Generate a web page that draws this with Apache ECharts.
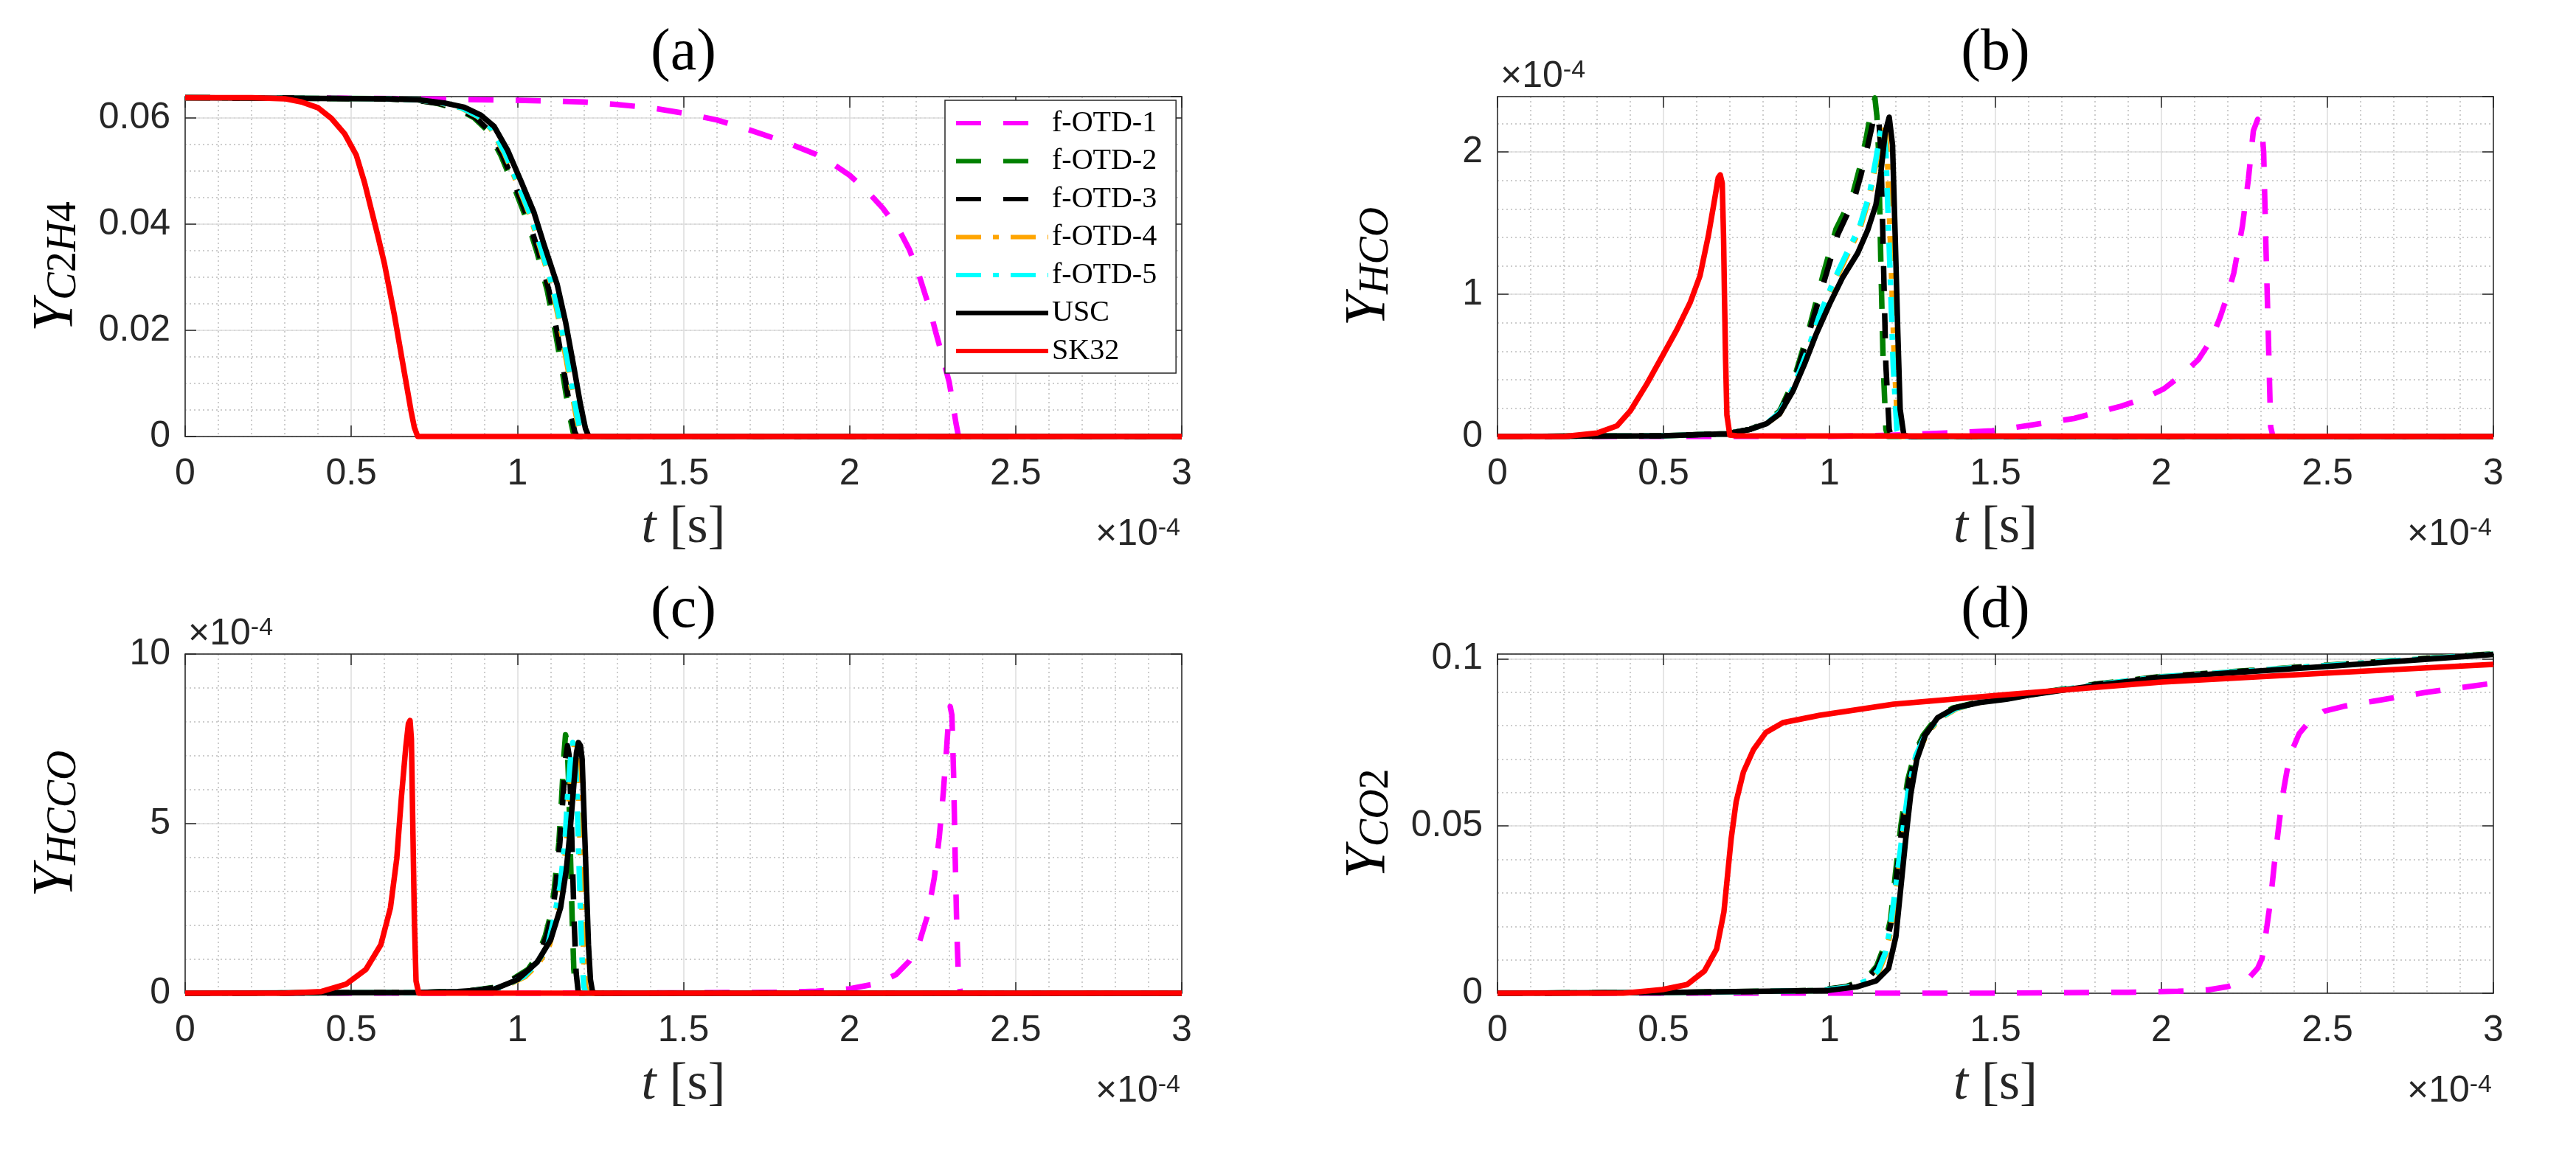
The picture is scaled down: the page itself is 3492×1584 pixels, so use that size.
<!DOCTYPE html>
<html>
<head>
<meta charset="utf-8">
<script src="https://cdn.jsdelivr.net/npm/echarts@6/dist/echarts.min.js"></script>
<style>
  html, body { margin: 0; padding: 0; background: #fff; }
  #main { width: 3492px; height: 1584px; }
</style>
</head>
<body>
<div id="main"></div>
<script>
// time in units of 1e-4 s (axis shows x10^-4)
// (a) Y_C2H4
const a_otd1 = [[0,0.0638],[0.5,0.0637],[0.8,0.0635],[1.0,0.0633],[1.2,0.0630],[1.3,0.0625],[1.4,0.0619],[1.5,0.0609],[1.6,0.0596],[1.7,0.0577],[1.8,0.0556],[1.9,0.0531],[1.95,0.0513],[2.0,0.0492],[2.05,0.0464],[2.1,0.0430],[2.15,0.0388],[2.18,0.0352],[2.21,0.0302],[2.24,0.0243],[2.26,0.0195],[2.28,0.0150],[2.30,0.0102],[2.31,0.0066],[2.32,0.0026],[2.328,0],[3,0]];
const a_otd2 = [[0,0.0638],[0.6,0.0636],[0.7,0.0633],[0.76,0.0627],[0.82,0.0617],[0.87,0.0600],[0.91,0.0576],[0.95,0.0530],[0.99,0.0470],[1.03,0.0405],[1.06,0.0345],[1.09,0.0275],[1.115,0.0195],[1.14,0.0105],[1.157,0.0040],[1.168,0.0008],[1.175,0],[3,0]];
const a_otd3 = [[0,0.0638],[0.6,0.0636],[0.7,0.0633],[0.765,0.0627],[0.825,0.0617],[0.875,0.0600],[0.915,0.0576],[0.955,0.0530],[0.995,0.0470],[1.035,0.0405],[1.065,0.0345],[1.095,0.0275],[1.12,0.0195],[1.145,0.0105],[1.162,0.0040],[1.173,0.0008],[1.18,0],[3,0]];
const a_otd4 = [[0,0.0638],[0.6,0.0636],[0.7,0.0634],[0.77,0.0628],[0.83,0.0619],[0.88,0.0603],[0.92,0.0580],[0.96,0.0535],[1.0,0.0476],[1.04,0.0413],[1.07,0.0353],[1.105,0.0280],[1.13,0.0205],[1.155,0.0118],[1.175,0.0045],[1.188,0.0008],[1.195,0],[3,0]];
const a_otd5 = [[0,0.0638],[0.6,0.0636],[0.7,0.0634],[0.772,0.0628],[0.832,0.0619],[0.882,0.0603],[0.922,0.0580],[0.962,0.0535],[1.002,0.0476],[1.042,0.0413],[1.072,0.0353],[1.107,0.0280],[1.133,0.0205],[1.158,0.0118],[1.178,0.0045],[1.19,0.0008],[1.198,0],[3,0]];
const a_usc  = [[0,0.0638],[0.6,0.0636],[0.7,0.0634],[0.78,0.0628],[0.84,0.0620],[0.89,0.0605],[0.93,0.0584],[0.97,0.0540],[1.01,0.0482],[1.05,0.0422],[1.08,0.0362],[1.12,0.0286],[1.145,0.0216],[1.17,0.0131],[1.19,0.0060],[1.205,0.0015],[1.215,0],[3,0]];
const a_sk32 = [[0,0.0638],[0.2,0.0638],[0.3,0.0636],[0.35,0.0630],[0.40,0.0619],[0.44,0.0599],[0.48,0.0570],[0.515,0.0530],[0.54,0.0478],[0.56,0.0428],[0.58,0.0378],[0.60,0.0325],[0.63,0.0228],[0.66,0.0120],[0.68,0.0048],[0.69,0.0017],[0.70,0],[3,0]];

// (b) Y_HCO, values in 1e-4
const b_otd1 = [[0,0],[1.0,0],[1.2,0.01],[1.35,0.025],[1.49,0.04],[1.6,0.078],[1.737,0.127],[1.874,0.21],[1.95,0.27],[2.007,0.335],[2.06,0.43],[2.111,0.54],[2.15,0.68],[2.177,0.84],[2.2,1.0],[2.218,1.15],[2.244,1.48],[2.262,1.81],[2.277,2.15],[2.29,2.23],[2.302,2.18],[2.308,2.0],[2.314,1.41],[2.322,0.72],[2.329,0.07],[2.336,0],[3,0]];
const b_otd2 = [[0,0],[0.5,0.005],[0.69,0.02],[0.76,0.05],[0.81,0.10],[0.85,0.18],[0.89,0.38],[0.94,0.77],[0.98,1.13],[1.02,1.46],[1.05,1.60],[1.072,1.72],[1.09,1.88],[1.11,2.09],[1.125,2.28],[1.137,2.38],[1.143,2.25],[1.148,2.0],[1.155,1.2],[1.162,0.5],[1.170,0.05],[1.176,0],[3,0]];
const b_otd3 = [[0,0],[0.5,0.005],[0.69,0.02],[0.76,0.05],[0.81,0.10],[0.85,0.17],[0.89,0.36],[0.94,0.74],[0.985,1.10],[1.025,1.42],[1.055,1.57],[1.077,1.69],[1.095,1.84],[1.115,2.04],[1.13,2.20],[1.145,2.27],[1.15,2.18],[1.155,2.0],[1.163,1.2],[1.170,0.5],[1.180,0.05],[1.186,0],[3,0]];
const b_otd4 = [[0,0],[0.5,0.005],[0.69,0.02],[0.76,0.05],[0.81,0.09],[0.85,0.16],[0.89,0.33],[0.93,0.57],[0.97,0.83],[1.01,1.06],[1.05,1.26],[1.09,1.45],[1.12,1.68],[1.14,1.92],[1.155,2.12],[1.162,2.20],[1.168,2.15],[1.174,2.0],[1.186,1.2],[1.196,0.5],[1.206,0.05],[1.213,0],[3,0]];
const b_otd5 = [[0,0],[0.5,0.005],[0.69,0.02],[0.76,0.05],[0.81,0.09],[0.85,0.17],[0.89,0.34],[0.93,0.58],[0.97,0.85],[1.01,1.08],[1.05,1.28],[1.09,1.47],[1.12,1.70],[1.14,1.95],[1.152,2.12],[1.158,2.18],[1.164,2.13],[1.170,2.0],[1.182,1.2],[1.192,0.5],[1.203,0.05],[1.21,0],[3,0]];
const b_usc  = [[0,0],[0.5,0.005],[0.69,0.02],[0.76,0.05],[0.81,0.09],[0.85,0.16],[0.89,0.32],[0.925,0.51],[0.96,0.72],[1.0,0.93],[1.04,1.12],[1.085,1.29],[1.115,1.45],[1.14,1.63],[1.155,1.86],[1.168,2.14],[1.18,2.245],[1.19,2.05],[1.198,1.41],[1.206,0.72],[1.213,0.19],[1.224,0.01],[1.24,0],[3,0]];
const b_sk32 = [[0,0],[0.2,0],[0.3,0.025],[0.36,0.075],[0.40,0.18],[0.45,0.37],[0.50,0.58],[0.54,0.75],[0.58,0.94],[0.61,1.13],[0.635,1.41],[0.655,1.68],[0.665,1.82],[0.671,1.84],[0.677,1.78],[0.681,1.40],[0.684,0.95],[0.687,0.55],[0.691,0.15],[0.70,0.01],[0.72,0.005],[3,0]];

// (c) Y_HCCO, values in 1e-4
const c_otd1 = [[0,0],[1.0,0],[1.5,0.01],[1.8,0.03],[1.9,0.06],[2.0,0.13],[2.08,0.28],[2.14,0.55],[2.18,0.95],[2.21,1.5],[2.235,2.3],[2.255,3.4],[2.27,4.6],[2.282,5.9],[2.292,7.2],[2.298,8.1],[2.303,8.45],[2.308,8.2],[2.313,6.5],[2.318,4.0],[2.323,1.8],[2.328,0.4],[2.334,0],[3,0]];
const c_otd2 = [[0,0],[0.7,0.02],[0.85,0.06],[0.95,0.2],[1.032,0.70],[1.06,1.1],[1.084,1.69],[1.1,2.3],[1.111,3.06],[1.125,4.44],[1.133,5.72],[1.140,7.0],[1.145,7.62],[1.150,7.4],[1.155,6.0],[1.160,4.0],[1.165,2.2],[1.170,0.7],[1.176,0.05],[1.182,0],[3,0]];
const c_otd3 = [[0,0],[0.7,0.02],[0.85,0.06],[0.95,0.19],[1.035,0.68],[1.065,1.1],[1.088,1.69],[1.104,2.3],[1.115,3.06],[1.128,4.44],[1.137,5.72],[1.145,6.9],[1.151,7.3],[1.156,7.0],[1.161,5.6],[1.166,3.8],[1.171,2.1],[1.177,0.6],[1.183,0.05],[1.19,0],[3,0]];
const c_otd4 = [[0,0],[0.7,0.02],[0.85,0.05],[0.95,0.15],[1.025,0.5],[1.065,0.9],[1.097,1.43],[1.115,2.2],[1.134,3.17],[1.149,4.55],[1.156,5.8],[1.165,6.9],[1.172,7.35],[1.178,7.15],[1.184,6.0],[1.19,4.0],[1.195,2.4],[1.2,1.0],[1.205,0.2],[1.211,0],[3,0]];
const c_otd5 = [[0,0],[0.7,0.02],[0.85,0.05],[0.95,0.16],[1.02,0.5],[1.06,0.9],[1.092,1.43],[1.11,2.2],[1.129,3.17],[1.144,4.55],[1.151,5.8],[1.16,6.9],[1.167,7.39],[1.173,7.2],[1.179,6.0],[1.185,4.0],[1.19,2.4],[1.195,1.0],[1.20,0.2],[1.206,0],[3,0]];
const c_usc  = [[0,0],[0.7,0.02],[0.82,0.05],[0.93,0.12],[1.0,0.4],[1.06,0.92],[1.1,1.57],[1.13,2.52],[1.147,3.61],[1.158,4.7],[1.17,6.15],[1.178,7.1],[1.184,7.39],[1.19,7.3],[1.195,6.9],[1.204,4.33],[1.214,1.43],[1.22,0.4],[1.226,0.05],[1.235,0],[3,0]];
const c_sk32 = [[0,0],[0.3,0],[0.41,0.05],[0.485,0.27],[0.544,0.70],[0.589,1.43],[0.618,2.52],[0.637,3.97],[0.651,5.79],[0.664,7.24],[0.672,7.95],[0.677,8.04],[0.681,7.5],[0.685,5.1],[0.690,2.16],[0.695,0.36],[0.703,0],[3,0]];

// (d) Y_CO2
const d_otd1 = [[0,0],[1.0,0],[1.5,0],[1.9,0.0003],[2.05,0.0006],[2.14,0.0010],[2.20,0.0020],[2.24,0.0034],[2.266,0.0048],[2.29,0.0075],[2.303,0.0104],[2.315,0.0180],[2.328,0.0272],[2.34,0.0385],[2.353,0.0496],[2.365,0.0590],[2.378,0.0664],[2.395,0.0730],[2.415,0.0776],[2.45,0.0818],[2.489,0.0843],[2.55,0.0858],[2.638,0.0873],[2.8,0.0900],[3.0,0.0927]];
const d_otd2 = [[0,0],[0.5,0.0002],[0.96,0.0008],[1.05,0.0020],[1.11,0.0042],[1.142,0.0081],[1.165,0.0140],[1.184,0.0220],[1.199,0.0360],[1.215,0.0500],[1.236,0.0639],[1.258,0.0720],[1.282,0.0771],[1.32,0.0820],[1.37,0.0852],[1.45,0.0871],[1.6,0.0893],[1.8,0.0924],[2.0,0.0947],[2.5,0.0981],[3.0,0.1015]];
const d_otd3 = [[0,0],[0.5,0.0002],[0.965,0.0008],[1.055,0.0020],[1.115,0.0042],[1.146,0.0081],[1.169,0.0140],[1.188,0.0220],[1.203,0.0360],[1.219,0.0500],[1.240,0.0639],[1.262,0.0720],[1.286,0.0771],[1.325,0.0820],[1.375,0.0852],[1.45,0.0870],[1.6,0.0892],[1.8,0.0923],[2.0,0.0946],[2.5,0.0980],[3.0,0.1014]];
const d_otd4 = [[0,0],[0.5,0.0002],[0.975,0.0008],[1.065,0.0019],[1.125,0.0040],[1.149,0.0067],[1.171,0.0120],[1.186,0.0195],[1.204,0.0330],[1.222,0.0470],[1.241,0.0610],[1.263,0.0710],[1.293,0.0775],[1.333,0.0822],[1.383,0.0851],[1.45,0.0869],[1.6,0.0891],[1.8,0.0922],[2.0,0.0946],[2.5,0.0980],[3.0,0.1014]];
const d_otd5 = [[0,0],[0.5,0.0002],[0.97,0.0008],[1.06,0.0019],[1.12,0.0040],[1.146,0.0067],[1.168,0.0120],[1.183,0.0195],[1.201,0.0330],[1.219,0.0470],[1.238,0.0610],[1.26,0.0710],[1.29,0.0775],[1.33,0.0822],[1.38,0.0851],[1.45,0.0870],[1.6,0.0892],[1.8,0.0922],[2.0,0.0946],[2.5,0.0980],[3.0,0.1014]];
const d_usc  = [[0,0],[0.5,0.0002],[0.993,0.0008],[1.082,0.0019],[1.141,0.0037],[1.178,0.0074],[1.20,0.0169],[1.215,0.0316],[1.23,0.0463],[1.245,0.0596],[1.263,0.0698],[1.289,0.0772],[1.326,0.0824],[1.378,0.0853],[1.452,0.0869],[1.533,0.0879],[1.6,0.0891],[1.8,0.0920],[2.0,0.0944],[2.5,0.0977],[3.0,0.1013]];
const d_sk32 = [[0,0],[0.378,0],[0.497,0.0011],[0.571,0.0026],[0.623,0.0066],[0.660,0.0132],[0.682,0.0243],[0.693,0.0353],[0.704,0.0463],[0.719,0.0573],[0.741,0.0662],[0.771,0.0728],[0.808,0.0779],[0.860,0.0809],[0.971,0.0831],[1.193,0.0864],[1.533,0.0893],[2.0,0.0930],[2.5,0.0957],[3.0,0.0983]];

const names  = ['f-OTD-1', 'f-OTD-2', 'f-OTD-3', 'f-OTD-4', 'f-OTD-5', 'USC', 'SK32'];
const colors = ['#ff00ff', '#008000', '#000000', '#ffa500', '#00ffff', '#000000', '#ff0000'];
const dashes = [[34, 30], [34, 30], [34, 30], [34, 16, 8, 16], [34, 16, 8, 16], 'solid', 'solid'];

const xTicks = { min: 0, max: 3, major: 0.5, minorSplit: 5 };

const panels = [
  { data: [a_otd1, a_otd2, a_otd3, a_otd4, a_otd5, a_usc, a_sk32], ymax: 0.064, major: 0.02, minor: 0.005,
    yname: '{y|Y}{s|C}{n|2}{s|H}{n|4}', title: '(a)', yexp: false, showMax: false,
    grid: { left: 251, top: 131, width: 1351, height: 461 } },
  { data: [b_otd1, b_otd2, b_otd3, b_otd4, b_otd5, b_usc, b_sk32], ymax: 2.39, major: 1, minor: 0.2,
    yname: '{y|Y}{s|HCO}', title: '(b)', yexp: true, showMax: false,
    grid: { left: 2030, top: 131, width: 1350, height: 461 } },
  { data: [c_otd1, c_otd2, c_otd3, c_otd4, c_otd5, c_usc, c_sk32], ymax: 10, major: 5, minor: 1,
    yname: '{y|Y}{s|HCCO}', title: '(c)', yexp: true, showMax: true,
    grid: { left: 251, top: 887, width: 1351, height: 460 } },
  { data: [d_otd1, d_otd2, d_otd3, d_otd4, d_otd5, d_usc, d_sk32], ymax: 0.1014, major: 0.05, minor: 0.01,
    yname: '{y|Y}{s|CO}{n|2}', title: '(d)', yexp: false, showMax: false,
    grid: { left: 2030, top: 887, width: 1350, height: 460 } }
];

const AX = '#262626';
const SERIF = 'Liberation Serif';
const SANS = 'Liberation Sans';
const LW = 7.5;
const boxLine = { show: true, onZero: false, lineStyle: { color: AX, width: 1.5 } };
const inTick = { show: true, inside: true, length: 15, lineStyle: { color: AX, width: 1.5 } };
const majorGrid = { show: true, lineStyle: { color: '#dcdcdc', width: 1.5 } };
const minorGrid = { show: true, lineStyle: { color: '#bdbdbd', width: 1.5, type: [2, 4] } };
const tickFont = { fontFamily: SANS, fontSize: 50, color: AX };

const expRich = {
  a: { font: '50px "' + SANS + '"', fill: AX, lineHeight: 50, verticalAlign: 'bottom', padding: [16, 0, 0, 0] },
  b: { font: '34px "' + SANS + '"', fill: AX, lineHeight: 34, verticalAlign: 'top' }
};

const grids = [], xAxes = [], yAxes = [], series = [], graphics = [];

panels.forEach((p, i) => {
  grids.push(Object.assign({ outerBoundsMode: 'none' }, p.grid));
  const g = p.grid;

  // bottom axis with labels and grid
  xAxes.push({
    gridIndex: i, type: 'value', position: 'bottom', z: 2,
    min: xTicks.min, max: xTicks.max, interval: xTicks.major,
    axisLine: boxLine, axisTick: inTick,
    axisLabel: Object.assign({ margin: 26 }, tickFont),
    splitLine: majorGrid,
    minorTick: { show: false, splitNumber: xTicks.minorSplit },
    minorSplitLine: minorGrid,
    name: '{i|t} {r|[s]}', nameLocation: 'middle', nameGap: 88, nameMoveOverlap: false,
    nameTextStyle: {
      fontFamily: SERIF, fontSize: 72, color: AX,
      rich: {
        i: { fontFamily: SERIF, fontStyle: 'italic', fontSize: 72, color: AX },
        r: { fontFamily: SERIF, fontSize: 72, color: AX }
      }
    }
  });
  // top box side
  xAxes.push({
    gridIndex: i, type: 'value', position: 'top', z: 2,
    min: xTicks.min, max: xTicks.max, interval: xTicks.major,
    axisLine: boxLine, axisTick: inTick, axisLabel: { show: false }, splitLine: { show: false }
  });

  // left axis with labels and major grid
  yAxes.push({
    gridIndex: i, type: 'value', position: 'left', z: 2,
    min: 0, max: p.ymax, interval: p.major,
    axisLine: boxLine, axisTick: inTick,
    axisLabel: Object.assign({ margin: 20, showMaxLabel: p.showMax }, tickFont),
    splitLine: majorGrid,
    name: p.yname, nameLocation: 'middle', nameRotate: 90, nameGap: 136, nameMoveOverlap: false,
    nameTextStyle: {
      color: '#000',
      rich: {
        y: { fontFamily: SERIF, fontStyle: 'italic', fontSize: 78, lineHeight: 78, verticalAlign: 'top', color: '#000' },
        s: { fontFamily: SERIF, fontStyle: 'italic', fontSize: 56, lineHeight: 56, verticalAlign: 'bottom', padding: [28, 0, 0, 0], color: '#000' },
        n: { fontFamily: SERIF, fontSize: 56, lineHeight: 56, verticalAlign: 'bottom', padding: [28, 0, 0, 0], color: '#000' }
      }
    }
  });
  // minor dotted grid
  yAxes.push({
    gridIndex: i, type: 'value', position: 'left', z: 1,
    min: 0, max: p.ymax, interval: p.minor,
    axisLine: { show: false }, axisTick: { show: false }, axisLabel: { show: false },
    splitLine: minorGrid
  });
  // right box side
  yAxes.push({
    gridIndex: i, type: 'value', position: 'right', z: 2,
    min: 0, max: p.ymax, interval: p.major,
    axisLine: boxLine, axisTick: inTick, axisLabel: { show: false }, splitLine: { show: false }
  });

  p.data.forEach((d, k) => {
    series.push({
      type: 'line', name: names[k], data: d,
      xAxisIndex: 2 * i, yAxisIndex: 3 * i,
      symbol: 'none', smooth: false, clip: true, z: 3 + k,
      lineStyle: { color: colors[k], width: LW, type: dashes[k], join: 'round' },
      itemStyle: { color: colors[k] }
    });
  });

  // panel title
  graphics.push({
    type: 'text', x: g.left + g.width / 2, y: g.top - 58,
    style: { text: p.title, font: '80px "' + SERIF + '"', fill: '#000', align: 'center', verticalAlign: 'middle' }
  });
  // x exponent
  graphics.push({
    type: 'text', x: g.left + g.width - 2, y: g.top + g.height + 158,
    style: { text: '{a|\u00d710}{b|-4}', align: 'right', verticalAlign: 'bottom', rich: expRich }
  });
  if (p.yexp) {
    graphics.push({
      type: 'text', x: g.left + 4, y: g.top - 2,
      style: { text: '{a|\u00d710}{b|-4}', align: 'left', verticalAlign: 'bottom', rich: expRich }
    });
  }
});

const chart = echarts.init(document.getElementById('main'), null, { renderer: 'canvas' });
chart.setOption({
  backgroundColor: '#ffffff',
  animation: false,
  grid: grids,
  xAxis: xAxes,
  yAxis: yAxes,
  legend: {
    orient: 'vertical', left: 1281, top: 136,
    data: names, selectedMode: false,
    itemWidth: 125, itemHeight: 40, itemGap: 11.5,
    padding: [11, 26, 10, 12],
    itemStyle: { opacity: 0 },
    lineStyle: { width: 6 },
    backgroundColor: '#ffffff', borderColor: AX, borderWidth: 1.5, borderRadius: 0,
    textStyle: { fontFamily: SERIF, fontSize: 40, color: '#000', lineHeight: 40 }
  },
  graphic: graphics,
  series: series
});
</script>
</body>
</html>
